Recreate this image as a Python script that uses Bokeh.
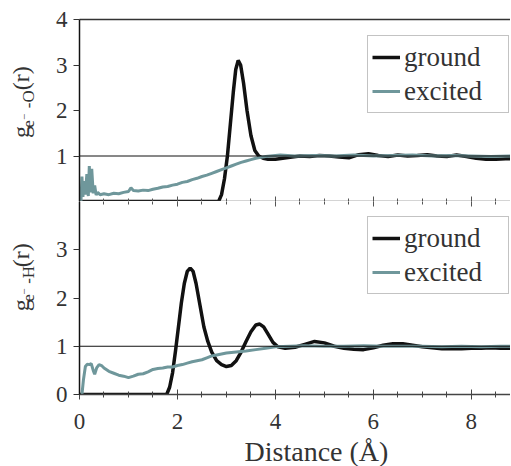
import math
from bokeh.plotting import figure
from bokeh.layouts import column, row
from bokeh.models import (LinearAxis, FixedTicker, SingleIntervalTicker, Span, Label,
                          Legend, LegendItem, Range1d, CustomJSTickFormatter)
from bokeh.embed import file_html
from bokeh.resources import INLINE

# ---------------- data ----------------
x_ticks_interval = 2
top_yticks = [1, 2, 3, 4]
bottom_yticks = [0, 1, 2, 3]
x_max = 8.8

# e- - O, ground state
o_ground_x = [0.0, 2.84, 2.90, 2.96, 3.02, 3.08, 3.14, 3.19, 3.24, 3.29, 3.35, 3.42, 3.50, 3.58,
              3.66, 3.75, 3.85, 4.00, 4.15, 4.30, 4.50, 4.70, 4.90, 5.10, 5.30, 5.50, 5.70, 5.90,
              6.10, 6.30, 6.50, 6.70, 6.90, 7.10, 7.30, 7.50, 7.70, 7.90, 8.10, 8.30, 8.50, 8.70, 8.80]
o_ground_y = [0.0, 0.0, 0.15, 0.50, 1.00, 1.70, 2.40, 2.90, 3.10, 3.00, 2.60, 2.00, 1.45, 1.12,
              1.00, 0.95, 0.93, 0.93, 0.95, 0.97, 1.00, 0.99, 1.01, 1.00, 0.98, 0.96, 1.03, 1.05,
              1.01, 0.99, 1.02, 1.00, 1.01, 1.03, 1.00, 0.99, 1.02, 0.99, 0.95, 0.93, 0.93, 0.94, 0.94]

# e- - O, excited state
o_exc_x = [0.03, 0.05, 0.07, 0.09, 0.12, 0.15, 0.18, 0.20, 0.22, 0.25, 0.28, 0.31, 0.34, 0.37,
           0.42, 0.50, 0.60, 0.70, 0.80, 0.90, 1.00, 1.05, 1.10, 1.20, 1.30, 1.40, 1.50, 1.60,
           1.70, 1.80, 1.90, 2.00, 2.10, 2.20, 2.30, 2.40, 2.50, 2.60, 2.70, 2.80, 2.90, 3.00,
           3.10, 3.20, 3.30, 3.40, 3.50, 3.60, 3.70, 3.80, 3.90, 4.10, 4.40, 4.80, 5.20, 5.60,
           6.00, 6.40, 6.80, 7.20, 7.60, 8.00, 8.40, 8.80]
o_exc_y = [0.00, 0.55, 0.10, 0.45, 0.15, 0.60, 0.12, 0.78, 0.20, 0.72, 0.18, 0.35, 0.14, 0.20,
           0.15, 0.17, 0.15, 0.18, 0.17, 0.20, 0.22, 0.30, 0.24, 0.23, 0.25, 0.24, 0.27, 0.29,
           0.32, 0.33, 0.36, 0.38, 0.42, 0.44, 0.48, 0.51, 0.55, 0.58, 0.62, 0.66, 0.70, 0.74,
           0.78, 0.82, 0.86, 0.89, 0.92, 0.95, 0.97, 0.99, 1.00, 1.02, 1.00, 1.01, 1.00, 1.02,
           1.00, 1.01, 1.02, 1.00, 1.01, 1.00, 0.99, 1.00]

# e- - H, ground state
h_ground_x = [0.0, 1.78, 1.84, 1.90, 1.96, 2.02, 2.08, 2.14, 2.20, 2.26, 2.32, 2.38, 2.46, 2.54,
              2.62, 2.70, 2.80, 2.90, 3.00, 3.10, 3.20, 3.30, 3.40, 3.50, 3.60, 3.68, 3.76, 3.85,
              3.95, 4.05, 4.20, 4.40, 4.60, 4.80, 5.00, 5.20, 5.40, 5.60, 5.80, 6.00, 6.20, 6.40,
              6.60, 6.80, 7.00, 7.20, 7.40, 7.60, 7.80, 8.00, 8.20, 8.40, 8.60, 8.80]
h_ground_y = [0.0, 0.0, 0.15, 0.45, 0.90, 1.40, 1.90, 2.30, 2.55, 2.62, 2.55, 2.30, 1.85, 1.40,
              1.10, 0.88, 0.70, 0.62, 0.58, 0.60, 0.70, 0.88, 1.10, 1.30, 1.44, 1.46, 1.40, 1.25,
              1.08, 0.99, 0.96, 0.98, 1.04, 1.10, 1.07, 1.00, 0.96, 0.94, 0.93, 0.97, 1.02, 1.05,
              1.05, 1.02, 0.99, 0.97, 0.95, 0.95, 0.95, 0.96, 0.96, 0.97, 0.96, 0.96]

# e- - H, excited state
h_exc_x = [0.05, 0.08, 0.12, 0.16, 0.20, 0.24, 0.28, 0.31, 0.35, 0.40, 0.45, 0.50, 0.60, 0.70,
           0.80, 0.90, 1.00, 1.10, 1.20, 1.30, 1.40, 1.50, 1.60, 1.70, 1.80, 1.90, 2.00, 2.10,
           2.20, 2.30, 2.40, 2.50, 2.60, 2.70, 2.80, 2.90, 3.00, 3.20, 3.40, 3.60, 3.80, 4.00,
           4.30, 4.60, 5.00, 5.40, 5.80, 6.20, 6.60, 7.00, 7.40, 7.80, 8.20, 8.60, 8.80]
h_exc_y = [0.00, 0.30, 0.58, 0.63, 0.62, 0.64, 0.50, 0.42, 0.55, 0.62, 0.60, 0.55, 0.48, 0.44,
           0.40, 0.38, 0.35, 0.38, 0.42, 0.43, 0.47, 0.52, 0.54, 0.55, 0.57, 0.57, 0.60, 0.62,
           0.65, 0.68, 0.70, 0.72, 0.76, 0.80, 0.82, 0.84, 0.86, 0.88, 0.90, 0.93, 0.96, 0.99,
           1.00, 1.01, 1.00, 1.00, 1.01, 1.00, 1.00, 1.00, 0.99, 1.00, 0.99, 1.00, 1.00]

series_labels = ["ground", "excited"]
x_label = "Distance (\u00c5)"

# ---------------- style / layout ----------------
FONT = "Liberation Serif"
TXT = "#333333"
GROUND_COLOR = "#111111"
EXC_COLOR = "#6f979b"
LAB_W = 48          # column holding the rotated y titles
W = 462             # main panels
TOP_H = 201
BOT_BORDER = 39
BOT_H = 193 + BOT_BORDER
XLAB_H = 466 - TOP_H - BOT_H


def clean(f):
    f.outline_line_color = None
    f.grid.visible = False
    f.background_fill_color = "white"
    f.border_fill_color = "white"


def blank_labels(axis):
    axis.formatter = CustomJSTickFormatter(code="return ''")
    axis.major_label_text_font_size = "0px"
    axis.major_label_standoff = 0


def base_fig(height, yticks, border_top, border_bottom):
    p = figure(width=W, height=height, output_backend="svg", toolbar_location=None,
               x_range=Range1d(0, x_max), y_range=Range1d(0, 4),
               min_border_left=31, min_border_right=0,
               min_border_top=border_top, min_border_bottom=border_bottom,
               x_axis_location="below", y_axis_location="left")
    clean(p)
    ya = p.yaxis[0]
    ya.ticker = FixedTicker(ticks=yticks)
    ya.major_tick_in = 0
    ya.major_tick_out = 6
    ya.minor_tick_in = 0
    ya.minor_tick_out = 0
    ya.axis_line_color = "#111111"
    ya.axis_line_width = 1.5
    ya.major_tick_line_color = "#333333"
    ya.major_tick_line_width = 1
    ya.major_label_text_font = FONT
    ya.major_label_text_font_size = "23px"
    ya.major_label_text_color = TXT
    ya.major_label_standoff = 6
    p.add_layout(Span(location=1, dimension="width", line_color="#111111", line_width=1))
    return p


def add_curves(p, gx, gy, ex, ey, legend_xy):
    rg = p.line(gx, gy, line_color=GROUND_COLOR, line_width=3.5)
    re = p.line(ex, ey, line_color=EXC_COLOR, line_width=3)
    leg = Legend(items=[LegendItem(label=series_labels[0], renderers=[rg]),
                        LegendItem(label=series_labels[1], renderers=[re])],
                 location=legend_xy, orientation="vertical",
                 border_line_color="#888888", border_line_width=1.5,
                 background_fill_color="white", background_fill_alpha=1,
                 padding=4, spacing=0, margin=0,
                 glyph_width=28, glyph_height=34, label_height=34, label_width=100,
                 label_standoff=4, label_text_font=FONT, label_text_font_size="27px",
                 label_text_color=TXT)
    p.add_layout(leg)


def label_fig(height, atom, y0):
    # narrow figure holding the rotated y-axis title; data units = pixels
    f = figure(width=LAB_W, height=height, output_backend="svg", toolbar_location=None,
               x_range=Range1d(0, LAB_W), y_range=Range1d(0, height),
               min_border=0, x_axis_location=None, y_axis_location=None)
    clean(f)
    # (text, font size, centre-line x, start y)  -- text runs upward from the start
    pieces = [("g", "24px", 20.5, 0),
              ("e", "17px", 28, 11.5),
              ("\u2212", "11px", 23.5, 20),
              ("-" + atom, "17px", 28, 33),
              ("(r)", "24px", 20.5, 53)]
    for txt, size, x, y in pieces:
        f.add_layout(Label(x=x, y=y0 + y, text=txt, angle=math.pi / 2,
                           text_align="left", text_baseline="middle", text_font=FONT,
                           text_font_size=size, text_color=TXT))
    return f


# ---------------- top panel (e- - O) ----------------
top = base_fig(TOP_H, top_yticks, 19, 0)
xa = top.xaxis[0]
xa.ticker = SingleIntervalTicker(interval=x_ticks_interval, num_minor_ticks=4)
xa.major_tick_in = 5
xa.major_tick_out = 0
xa.minor_tick_in = 3
xa.minor_tick_out = 0
xa.axis_line_color = "#555555"
xa.axis_line_width = 1.5
xa.major_tick_line_color = "#555555"
xa.minor_tick_line_color = "#555555"
blank_labels(xa)
top_line = LinearAxis(ticker=FixedTicker(ticks=[]), major_tick_in=0, major_tick_out=0,
                      minor_tick_in=0, minor_tick_out=0,
                      axis_line_color="#333333", axis_line_width=1.5)
blank_labels(top_line)
top.add_layout(top_line, "above")
add_curves(top, o_ground_x, o_ground_y, o_exc_x, o_exc_y, (288, 88))
lab_top = label_fig(TOP_H, "O", TOP_H - 131)

# ---------------- bottom panel (e- - H) ----------------
bot = base_fig(BOT_H, bottom_yticks, 0, BOT_BORDER)
xb = bot.xaxis[0]
xb.ticker = SingleIntervalTicker(interval=x_ticks_interval, num_minor_ticks=4)
xb.major_tick_in = 5
xb.major_tick_out = 5
xb.minor_tick_in = 3
xb.minor_tick_out = 3
xb.axis_line_color = "#444444"
xb.axis_line_width = 1.5
xb.major_tick_line_color = "#444444"
xb.minor_tick_line_color = "#444444"
xb.major_label_text_font = FONT
xb.major_label_text_font_size = "23px"
xb.major_label_text_color = TXT
xb.major_label_standoff = 14
mid_ticks = LinearAxis(ticker=SingleIntervalTicker(interval=x_ticks_interval, num_minor_ticks=4),
                       major_tick_in=5, major_tick_out=0, minor_tick_in=3, minor_tick_out=0,
                       major_tick_line_color="#555555", minor_tick_line_color="#555555",
                       axis_line_color=None)
blank_labels(mid_ticks)
bot.add_layout(mid_ticks, "above")
add_curves(bot, h_ground_x, h_ground_y, h_exc_x, h_exc_y, (288, 100))
lab_bot = label_fig(BOT_H, "H", (TOP_H + BOT_H) - 333)

# ---------------- x-axis title strip ----------------
xlab = figure(width=LAB_W + W, height=XLAB_H, output_backend="svg", toolbar_location=None,
              x_range=Range1d(0, LAB_W + W), y_range=Range1d(0, XLAB_H),
              min_border=0, x_axis_location=None, y_axis_location=None)
clean(xlab)
xlab.add_layout(Label(x=316, y=15.5, text=x_label, text_align="center",
                      text_baseline="middle", text_font=FONT, text_font_size="28px",
                      text_color=TXT))

layout = column(row(lab_top, top, spacing=0), row(lab_bot, bot, spacing=0), xlab, spacing=0)
open("out.html", "w").write(file_html(layout, INLINE))
